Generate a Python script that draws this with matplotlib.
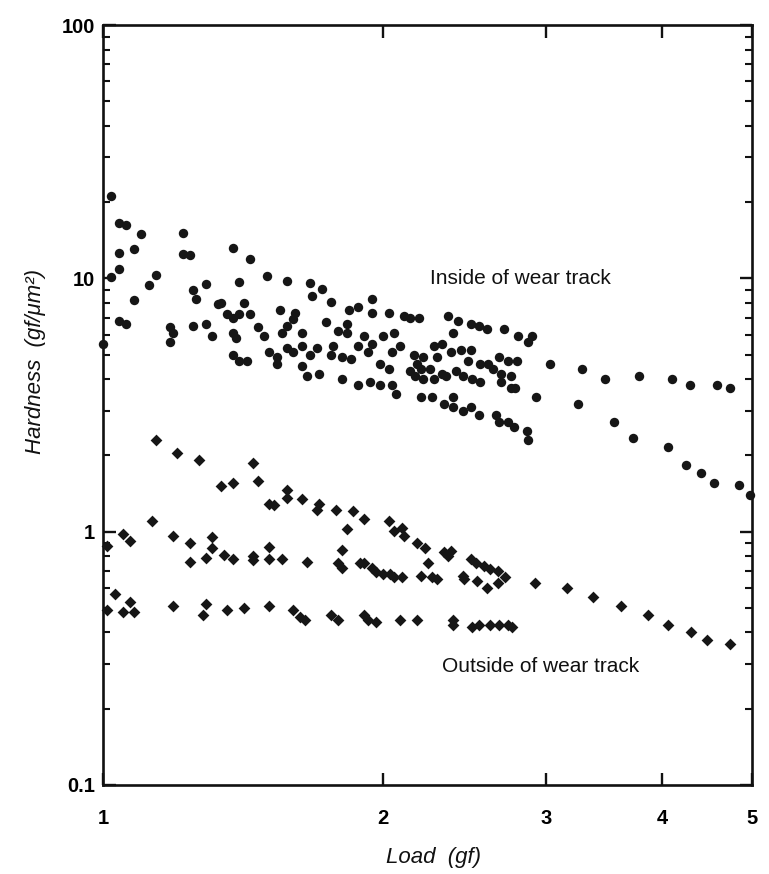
import matplotlib
matplotlib.use("Agg")
import matplotlib.pyplot as plt
from matplotlib.ticker import FixedLocator, NullLocator, LogLocator, NullFormatter, FixedFormatter

# ---- data ----
inside_load = [1.02, 1.04, 1.06, 1.10, 1.04, 1.08, 1.22, 1.22, 1.24, 1.38, 1.44, 1.04, 1.02, 1.14, 1.12,
               1.29, 1.40, 1.50, 1.58, 1.67, 1.72, 1.68, 1.76, 1.95, 1.08, 1.25, 1.26, 1.33, 1.34, 1.42,
               1.36, 1.38, 1.40, 1.44, 1.04, 1.06, 1.55, 1.61, 1.60, 1.84, 1.88, 1.95, 2.03, 2.11, 2.14,
               2.19, 1.74, 1.83, 1.79, 1.83, 1.58, 1.56, 1.18, 1.19, 1.18, 1.25, 1.29, 1.31, 1.38, 1.39,
               1.47, 1.49, 1.64, 2.06, 1.91, 2.00, 1.95, 1.88, 1.64, 1.70, 1.67, 1.77, 1.76, 1.81, 1.85,
               1.93, 2.05, 2.09, 2.16, 2.18, 1.38, 1.40, 1.43, 1.51, 1.54, 1.54, 1.58, 1.60, 1.64, 1.99,
               2.03, 1.66, 1.71, 1.81, 1.88, 1.94, 1.99, 2.05, 2.07, 1.00, 2.14,
               2.35, 2.41, 2.49, 2.54, 2.59, 2.38, 2.70, 2.80, 2.90, 2.87,
               3.03, 3.28, 3.47, 3.78, 4.10, 4.29, 4.59, 4.74,
               2.27, 2.32, 2.21, 2.29, 2.20, 2.25, 2.17, 2.21, 2.27, 2.34, 2.37, 2.43, 2.49, 2.47, 2.40,
               2.44, 2.50, 2.55, 2.67, 2.73, 2.79, 2.63, 2.68, 2.75, 2.68, 2.75, 2.78, 2.55, 2.60, 2.32,
               2.20, 2.26, 2.33, 2.38, 2.38, 2.44, 2.49, 2.54, 2.65, 2.67, 2.73, 2.77, 2.86, 2.87,
               2.93, 3.25, 3.55, 3.72, 4.06, 4.25, 4.41, 4.55, 4.84, 4.98]
inside_hardness = [21.2, 16.6, 16.2, 14.9, 12.6, 13.1, 15.1, 12.5, 12.4, 13.2, 11.9, 10.9, 10.1, 10.3, 9.4,
                   9.5, 9.7, 10.2, 9.8, 9.6, 9.1, 8.5, 8.1, 8.3, 8.2, 9.0, 8.3, 7.9, 8.0, 8.0,
                   7.2, 7.0, 7.2, 7.2, 6.8, 6.6, 7.5, 7.3, 6.9, 7.5, 7.7, 7.3, 7.3, 7.1, 7.0,
                   7.0, 6.7, 6.6, 6.2, 6.1, 6.5, 6.1, 6.4, 6.1, 5.6, 6.5, 6.6, 5.9, 6.1, 5.8,
                   6.4, 5.9, 6.1, 6.1, 5.9, 5.9, 5.5, 5.4, 5.4, 5.3, 5.0, 5.4, 5.0, 4.9, 4.8,
                   5.1, 5.1, 5.4, 5.0, 4.6, 5.0, 4.7, 4.7, 5.1, 4.9, 4.6, 5.3, 5.1, 4.5, 4.6,
                   4.4, 4.1, 4.2, 4.0, 3.8, 3.9, 3.8, 3.8, 3.5, 5.5, 4.3,
                   7.1, 6.8, 6.6, 6.5, 6.3, 6.1, 6.3, 5.9, 5.9, 5.6,
                   4.6, 4.4, 4.0, 4.1, 4.0, 3.8, 3.8, 3.7,
                   5.4, 5.5, 4.9, 4.9, 4.4, 4.4, 4.1, 4.0, 4.0, 4.1, 5.1, 5.2, 5.2, 4.7, 4.3,
                   4.1, 4.0, 3.9, 4.9, 4.7, 4.7, 4.4, 4.2, 4.1, 3.9, 3.7, 3.7, 4.6, 4.6, 4.2,
                   3.4, 3.4, 3.2, 3.4, 3.1, 3.0, 3.1, 2.9, 2.9, 2.7, 2.7, 2.6, 2.5, 2.3,
                   3.4, 3.2, 2.7, 2.35, 2.15, 1.84, 1.71, 1.56, 1.53, 1.39]

outside_load = [1.14, 1.20, 1.27, 1.45, 1.34, 1.38, 1.47, 1.58, 1.58, 1.51, 1.53, 1.64, 1.71, 1.70, 1.78,
                1.86, 1.91, 1.83, 2.03, 2.06, 2.11, 2.10, 2.18, 2.22, 2.33, 2.37, 2.35, 2.49, 2.52, 2.57,
                2.61, 2.66, 2.24,
                2.10, 2.20, 2.26, 2.29, 2.44, 2.45, 2.53, 2.59, 2.66, 2.71,
                2.92, 3.16, 3.37, 3.61, 3.86, 4.06, 4.30, 4.47, 4.73,
                1.13, 1.05, 1.07, 1.01, 1.19, 1.24, 1.31, 1.31, 1.24, 1.29, 1.35, 1.38, 1.45, 1.45, 1.51,
                1.51, 1.56, 1.66, 1.81, 1.79, 1.81, 1.89, 1.91, 1.95, 1.97, 2.00, 2.04, 2.06,
                1.03, 1.07, 1.05, 1.08, 1.01, 1.19, 1.29, 1.28, 1.36, 1.42, 1.51, 1.60, 1.63, 1.65, 1.76,
                1.79, 1.91, 1.93, 1.97, 2.09, 2.18, 2.38, 2.38, 2.50, 2.54, 2.61, 2.67, 2.73, 2.76]
outside_hardness = [2.31, 2.05, 1.92, 1.87, 1.52, 1.55, 1.58, 1.46, 1.36, 1.29, 1.28, 1.35, 1.29, 1.22, 1.22,
                    1.21, 1.12, 1.02, 1.10, 1.01, 0.96, 1.03, 0.90, 0.86, 0.83, 0.84, 0.80, 0.78, 0.75, 0.73,
                    0.71, 0.70, 0.75,
                    0.66, 0.67, 0.66, 0.65, 0.67, 0.65, 0.64, 0.60, 0.63, 0.66,
                    0.63, 0.60, 0.55, 0.51, 0.47, 0.43, 0.40, 0.375, 0.36,
                    1.10, 0.98, 0.92, 0.88, 0.96, 0.90, 0.95, 0.86, 0.76, 0.79, 0.81, 0.78, 0.80, 0.77, 0.87,
                    0.78, 0.78, 0.76, 0.85, 0.75, 0.72, 0.75, 0.75, 0.72, 0.69, 0.68, 0.68, 0.66,
                    0.57, 0.53, 0.48, 0.48, 0.49, 0.51, 0.52, 0.47, 0.49, 0.50, 0.51, 0.49, 0.46, 0.45, 0.47,
                    0.45, 0.47, 0.45, 0.44, 0.45, 0.45, 0.45, 0.43, 0.42, 0.43, 0.43, 0.43, 0.43, 0.42]

x_ticks = [1, 2, 3, 4, 5]
x_ticklabels = ["1", "2", "3", "4", "5"]
y_ticks = [0.1, 1, 10, 100]
y_ticklabels = ["0.1", "1", "10", "100"]

inside_label = "Inside of wear track"
outside_label = "Outside of wear track"

# ---- figure ----
FONT = ["Liberation Sans Narrow", "Liberation Sans", "DejaVu Sans"]
plt.rcParams["font.family"] = FONT

fig = plt.figure(figsize=(7.69, 8.74), dpi=100)
ax = fig.add_axes([103 / 769, 1 - 785 / 874, (752 - 103) / 769, (785 - 25) / 874])
ax.set_xscale("log")
ax.set_yscale("log")
ax.set_xlim(1, 5)
ax.set_ylim(0.1, 100)

ax.scatter(inside_load, inside_hardness, s=46, c="#161616", marker="o", linewidths=0, clip_on=False, zorder=3)
ax.scatter(outside_load, outside_hardness, s=36, c="#161616", marker="D", linewidths=0, clip_on=False, zorder=3)

for sp in ax.spines.values():
    sp.set_linewidth(1.9)
    sp.set_color("#111111")

ax.xaxis.set_major_locator(FixedLocator(x_ticks))
ax.xaxis.set_major_formatter(FixedFormatter(x_ticklabels))
ax.xaxis.set_minor_locator(NullLocator())
ax.yaxis.set_major_locator(FixedLocator(y_ticks))
ax.yaxis.set_major_formatter(FixedFormatter(y_ticklabels))
ax.yaxis.set_minor_locator(LogLocator(base=10, subs=range(2, 10)))
ax.yaxis.set_minor_formatter(NullFormatter())

ax.tick_params(axis="both", which="major", direction="in", top=True, right=True,
               length=9, width=1.7, color="#111111", labelsize=14.5)
ax.tick_params(axis="both", which="minor", direction="in", top=True, right=True,
               length=5, width=1.5, color="#111111")
ax.tick_params(axis="x", which="major", pad=17)
ax.tick_params(axis="y", which="major", pad=6)
for lab in ax.get_xticklabels() + ax.get_yticklabels():
    lab.set_fontweight("bold")

ax.text(2.25, 10.0, inside_label, fontsize=15, ha="left", va="center", color="#111111")
ax.text(2.32, 0.293, outside_label, fontsize=15, ha="left", va="center", color="#111111")

fig.text(434 / 769, 1 - 857 / 874, "Load  (gf)", fontsize=16, style="italic",
         ha="center", va="center", color="#111111")
fig.text(36 / 769, 1 - 362 / 874, "Hardness  (gf/\u03bcm\u00b2)", fontsize=16, style="italic",
         rotation=90, ha="center", va="center", color="#111111")

fig.savefig("out.png", dpi=100, facecolor="white")
